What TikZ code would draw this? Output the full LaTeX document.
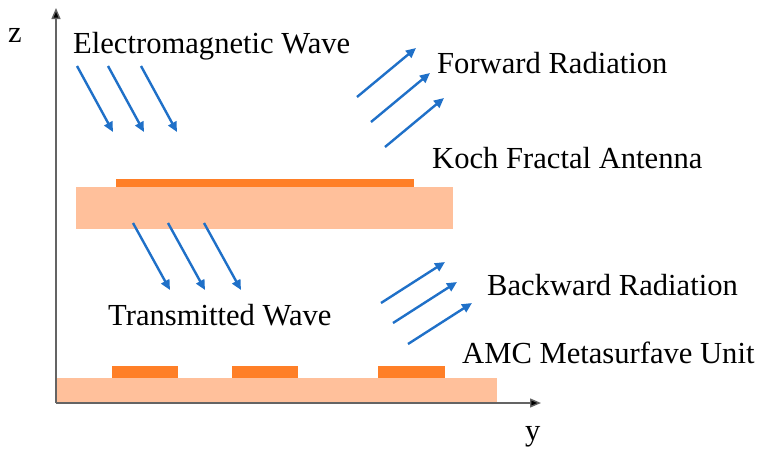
\documentclass[tikz,border=0pt]{standalone}
\usepackage{fontspec}
\setmainfont{Liberation Serif}
\usetikzlibrary{arrows.meta,positioning}
\definecolor{waveBlue}{RGB}{31,112,200}
\definecolor{patchOrange}{RGB}{255,127,39}
\definecolor{substrateOrange}{RGB}{255,192,155}
\definecolor{axisGray}{RGB}{100,100,100}

\begin{document}
\begin{tikzpicture}[
    x=1pt, y=-1pt,
    wave/.style={draw=waveBlue, line width=2.4pt,
      -{Triangle[length=10pt,width=9pt]}},
    axis/.style={draw=axisGray, line width=1.4pt,
      -{Triangle[length=11pt,width=9pt,fill=black]}},
    lbl/.style={anchor=base west, inner sep=0pt,
      font=\fontsize{30.6}{36}\selectfont}
  ]
  \useasboundingbox (0,0) rectangle (762,456);
  % Antenna layer
  \fill[substrateOrange] (76,187) rectangle (453,229);
  \fill[patchOrange] (116,179) rectangle (414,187);
  % AMC layer
  \fill[substrateOrange] (56,378) rectangle (497,403);
  \foreach \xa/\xb in {112/178, 232/298, 378/445}
    \fill[patchOrange] (\xa,366) rectangle (\xb,378);
  % Axes
  \coordinate (o) at (56,403);
  \coordinate (ztip) at (56,8);
  \coordinate (ytip) at (541,403);
  \draw[axis] (o) -- (ztip);
  \draw[axis] (o) -- (ytip);
  \node[lbl] (zlabel) at (8,42) {z};
  \node[lbl] (ylabel) at (525,440) {y};
  % Waves
  \foreach \x/\y [count=\i] in {77/66, 108/66, 141/66} {
    \coordinate (em\i) at (\x,\y);
    \coordinate (emend\i) at (\x+36,\y+66);
    \draw[wave] (em\i) -- (emend\i);
  }
  \foreach \x/\y [count=\i] in {357/97, 371/122, 385/147} {
    \coordinate (fw\i) at (\x,\y);
    \coordinate (fwend\i) at (\x+59,\y-49);
    \draw[wave] (fw\i) -- (fwend\i);
  }
  \foreach \x/\y [count=\i] in {133/223, 168/223, 204/223} {
    \coordinate (tw\i) at (\x,\y);
    \coordinate (twend\i) at (\x+37,\y+67);
    \draw[wave] (tw\i) -- (twend\i);
  }
  \foreach \x/\y [count=\i] in {381/303, 393/323, 408/344} {
    \coordinate (bw\i) at (\x,\y);
    \coordinate (bwend\i) at (\x+64,\y-41);
    \draw[wave] (bw\i) -- (bwend\i);
  }
  % Labels
  \node[lbl] (emwave) at (73,53) {Electromagnetic Wave};
  \node[lbl] (forward) at (437,73) {Forward Radiation};
  \node[lbl] (koch) at (432,168) {Koch Fractal Antenna};
  \node[lbl] (transmitted) at (108,325) {Transmitted Wave};
  \node[lbl] (backward) at (487,295) {Backward Radiation};
  \node[lbl] (amc) at (462,363) {AMC Metasurfave Unit};
\end{tikzpicture}
\end{document}
